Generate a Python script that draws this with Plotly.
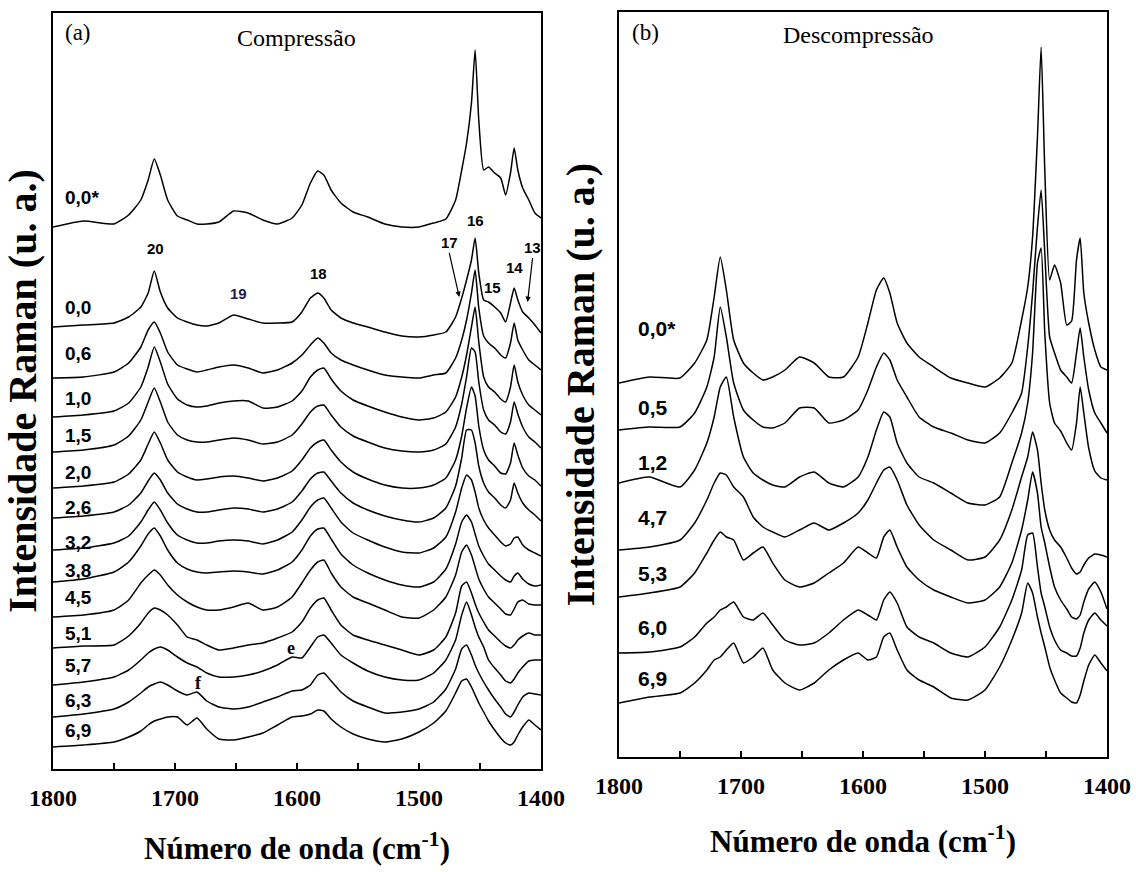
import plotly.graph_objects as go

# ---------------- data ----------------
wavenumber = [1800, 1775, 1750, 1738, 1728, 1722, 1717, 1712, 1706, 1698,
              1690, 1682, 1674, 1664, 1652, 1640, 1628, 1616, 1604, 1596,
              1589, 1583, 1578, 1572, 1564, 1554, 1542, 1528, 1514, 1500,
              1488, 1478, 1470, 1465, 1461, 1457, 1454, 1451, 1447, 1443,
              1438, 1433, 1429, 1425, 1422, 1419, 1415, 1410, 1405, 1400]

# (a) Compressão - pressure labels (GPa), stacking offsets
comp_labels = ['0,0*', '0,0', '0,6', '1,0', '1,5', '2,0', '2,6', '3,2', '3,8', '4,5', '5,1', '5,7', '6,3', '6,9']
comp_offsets = [542, 442, 391, 352, 317, 281, 251, 219, 187, 152, 121, 84, 52, 22]
comp_label_lift = [30, 20, 25, 19, 17, 16, 11, 8, 12, 20, 15, 20, 17, 17]

a_0_0s = [0, 6, 3, 12, 27, 47, 68, 52, 27, 11, 7, 3, 3, 5, 16, 14, 7, 3, 9, 22,
          44, 56, 52, 37, 24, 15, 10, 3, 0, 0, 4, 8, 27, 57, 84, 124, 177, 107, 57, 60,
          54, 49, 32, 54, 79, 57, 39, 27, 14, 9]
a_0_0 = [0, 2, 4, 10, 20, 34, 56, 35, 19, 9, 5, 2, 1, 4, 12, 8, 4, 4, 5, 15,
         29, 34, 29, 17, 9, 4, 0, -5, -9, -10, -8, -5, 10, 29, 47, 67, 89, 54, 27, 25,
         20, 14, 5, 24, 39, 27, 15, 9, 2, -6]
a_0_6 = [0, 1, 6, 15, 31, 48, 56, 45, 26, 13, 9, 6, 8, 11, 13, 10, 5, 8, 15, 23,
         33, 40, 35, 25, 18, 13, 8, 3, 1, 0, 3, 5, 20, 38, 58, 85, 108, 70, 42, 35,
         30, 23, 20, 35, 55, 38, 28, 18, 13, 8]
a_1_0 = [0, 2, 6, 14, 30, 50, 70, 55, 33, 18, 12, 10, 11, 14, 16, 16, 9, 10, 16, 26,
         40, 47, 49, 38, 26, 17, 11, 5, 0, -3, -1, 5, 20, 40, 62, 90, 110, 75, 40, 30,
         25, 18, 15, 30, 52, 35, 22, 12, 7, 2]
a_1_5 = [0, 2, 7, 16, 32, 50, 64, 50, 30, 17, 12, 10, 10, 12, 14, 12, 8, 10, 17, 28,
         40, 46, 47, 37, 25, 16, 10, 4, 1, 0, 2, 8, 25, 48, 75, 104, 100, 70, 42, 32,
         27, 20, 18, 30, 50, 38, 25, 15, 10, 4]
a_2_0 = [0, 2, 6, 14, 28, 44, 56, 45, 28, 16, 11, 8, 9, 11, 12, 10, 7, 10, 17, 28,
         40, 46, 48, 38, 26, 16, 9, 3, 0, 0, 3, 10, 28, 52, 80, 101, 92, 62, 38, 28,
         22, 15, 14, 25, 45, 33, 20, 12, 8, 2]
a_2_6 = [0, 2, 6, 13, 25, 37, 45, 38, 25, 14, 9, 6, 6, 8, 10, 9, 6, 9, 16, 27,
         39, 45, 46, 37, 25, 15, 8, 2, -2, -4, 0, 10, 32, 60, 88, 88, 75, 52, 35, 26,
         20, 13, 10, 18, 35, 25, 15, 8, 3, -3]
a_3_2 = [0, 2, 7, 14, 28, 40, 48, 40, 27, 15, 10, 7, 7, 9, 10, 9, 6, 10, 18, 30,
         43, 50, 52, 42, 28, 17, 10, 3, -2, -3, 2, 13, 38, 62, 75, 70, 58, 42, 30, 22,
         15, 8, 4, 6, 12, 13, 5, 0, -3, -6]
a_3_8 = [0, 3, 10, 20, 36, 48, 54, 46, 32, 19, 13, 10, 9, 10, 11, 10, 8, 12, 20, 32,
         46, 53, 54, 43, 28, 17, 9, 2, -3, -5, 0, 13, 38, 60, 67, 60, 48, 36, 26, 18,
         12, 6, 2, 0, 6, 9, 3, -2, -4, -3]
a_4_5 = [0, 2, 7, 17, 34, 42, 47, 42, 32, 22, 15, 10, 7, 7, 10, 14, 7, 10, 20, 34,
         47, 55, 57, 44, 30, 20, 14, 7, 0, -1, 7, 20, 42, 65, 72, 62, 50, 38, 28, 20,
         14, 8, 3, 2, 8, 15, 17, 13, 12, 12]
a_5_1 = [0, 2, 3, 12, 25, 35, 40, 38, 33, 23, 11, 8, 3, -2, 0, 3, 5, 10, 16, 26,
         40, 48, 50, 38, 23, 13, 8, 3, -2, -7, -2, 11, 35, 62, 66, 55, 44, 35, 26, 18,
         12, 6, 2, 0, 3, 8, 12, 15, 13, 13]
a_5_7 = [0, 3, 8, 15, 25, 32, 36, 38, 35, 28, 22, 18, 12, 8, 8, 10, 14, 20, 28, 27,
         38, 48, 50, 42, 30, 22, 14, 8, 5, 5, 12, 25, 45, 70, 83, 70, 58, 48, 38, 25,
         17, 10, 4, 2, 6, 12, 18, 24, 25, 25]
a_6_3 = [0, 3, 8, 15, 24, 30, 33, 35, 32, 26, 22, 25, 16, 10, 8, 10, 15, 20, 26, 27,
         32, 42, 44, 36, 25, 16, 10, 4, 5, 8, 15, 28, 48, 68, 72, 62, 52, 44, 35, 27,
         18, 10, 3, 0, 5, 12, 20, 24, 23, 22]
a_6_9 = [0, 2, 5, 10, 16, 22, 26, 28, 30, 30, 22, 29, 18, 8, 7, 10, 14, 22, 30, 31,
         33, 37, 36, 28, 20, 13, 8, 5, 8, 15, 24, 36, 54, 66, 68, 60, 52, 44, 35, 26,
         17, 9, 4, 2, 5, 12, 20, 27, 22, 17]

# (b) Descompressão
decomp_labels = ['0,0*', '0,5', '1,2', '4,7', '5,3', '6,0', '6,9']
decomp_offsets = [374, 327, 274, 207, 160, 104, 54]
decomp_label_lift = [55, 23, 21, 33, 24, 26, 25]

b_0_0s = [0, 6, 5, 20, 43, 86, 126, 93, 43, 20, 10, 3, 6, 13, 26, 20, 6, 6, 26, 60,
          93, 105, 90, 60, 40, 26, 16, 5, 0, -4, 5, 20, 63, 96, 146, 246, 336, 213, 103, 118,
          100, 58, 62, 123, 145, 90, 60, 33, 16, 13]
b_0_5 = [0, 3, 3, 17, 43, 73, 123, 93, 47, 20, 10, 3, 2, 7, 22, 22, 7, 10, 20, 40,
         63, 77, 70, 50, 33, 13, 3, -3, -10, -13, -3, 17, 37, 83, 137, 203, 240, 177, 93, 77,
         60, 53, 47, 77, 102, 73, 40, 17, 7, -3]
b_1_2 = [0, 6, -4, 13, 40, 66, 96, 106, 66, 26, 10, 3, -2, -4, 6, 11, 0, -4, 6, 26,
         53, 71, 66, 40, 20, 6, 0, -10, -20, -22, -14, 20, 50, 80, 130, 220, 235, 150, 80, 60,
         52, 40, 33, 60, 96, 70, 35, 12, 5, 3]
b_4_7 = [0, 3, 10, 27, 50, 67, 77, 75, 63, 53, 33, 23, 18, 13, 20, 27, 20, 27, 37, 50,
         67, 80, 83, 70, 45, 25, 10, 0, -10, -7, 10, 40, 73, 93, 118, 100, 67, 40, 20, 10,
         3, -8, -18, -24, -22, -15, -8, -4, -5, -7]
b_5_3 = [0, 4, 10, 24, 44, 57, 65, 60, 57, 37, 44, 50, 34, 17, 10, 14, 24, 34, 50, 44,
         39, 60, 67, 50, 30, 17, 7, 0, -6, -3, 10, 34, 67, 97, 125, 104, 70, 54, 30, 10,
         -3, -12, -20, -22, -18, -5, 8, 15, 5, -12]
b_6_0 = [0, 1, 6, 16, 30, 36, 43, 46, 51, 36, 33, 40, 28, 13, 8, 10, 20, 33, 43, 38,
         33, 53, 61, 50, 26, 16, 10, 0, -4, 6, 26, 53, 83, 118, 120, 86, 60, 46, 26, 13,
         3, 0, -3, -3, 5, 20, 33, 40, 33, 27]
b_6_9 = [0, 6, 10, 20, 33, 43, 46, 53, 60, 40, 46, 55, 33, 20, 13, 20, 33, 43, 50, 43,
         46, 66, 70, 53, 33, 23, 16, 5, 3, 13, 36, 63, 90, 120, 110, 86, 70, 56, 36, 23,
         10, 5, 1, 0, 8, 22, 38, 48, 40, 32]

comp_spectra = [a_0_0s, a_0_0, a_0_6, a_1_0, a_1_5, a_2_0, a_2_6, a_3_2, a_3_8,
                a_4_5, a_5_1, a_5_7, a_6_3, a_6_9]
decomp_spectra = [b_0_0s, b_0_5, b_1_2, b_4_7, b_5_3, b_6_0, b_6_9]

# band assignments (panel a)
band_numbers = ['20', '19', '18', '16', '15', '14']
band_wn = [1716, 1648, 1582, 1454, 1440, 1422]
band_height = [521, 476, 496, 549, 482, 502]
arrow_bands = ['17', '13']
arrow_wn = [1467, 1411]
arrow_height = [472, 467]
arrow_dx = [-10, 5]
mode_letters = ['e', 'f']
mode_wn = [1605, 1681]
mode_height = [121, 86]

major_ticks = [1800, 1700, 1600, 1500, 1400]

# ---------------- figure ----------------
W, H = 1136, 872
fig = go.Figure()
line_style = dict(color='black', width=1.5, shape='spline', smoothing=0.5)
for off, spec in zip(comp_offsets, comp_spectra):
    fig.add_trace(go.Scatter(x=wavenumber, y=[v + off for v in spec], mode='lines',
                             line=line_style, xaxis='x', yaxis='y',
                             showlegend=False, hoverinfo='skip'))
for off, spec in zip(decomp_offsets, decomp_spectra):
    fig.add_trace(go.Scatter(x=wavenumber, y=[v + off for v in spec], mode='lines',
                             line=line_style, xaxis='x2', yaxis='y2',
                             showlegend=False, hoverinfo='skip'))

serif = 'Liberation Serif'
sans = 'Liberation Sans'
xtitle = 'Número de onda (cm<sup>-1</sup>)'
ytitle = 'Intensidade Raman (u. a.)'

def xaxis_cfg(dom, anchor, standoff):
    return dict(domain=dom, range=[1800, 1400], anchor=anchor,
                tickmode='array', tickvals=major_ticks,
                ticks='inside', ticklen=6, tickwidth=1.5, tickcolor='black',
                minor=dict(tickmode='linear', tick0=1400, dtick=50, ticks='inside',
                           ticklen=6, tickwidth=1.5, tickcolor='black', showgrid=False),
                showline=True, linewidth=1.6, linecolor='black', mirror=True,
                showgrid=False, zeroline=False, ticklabelstandoff=6, automargin=False,
                tickfont=dict(family=serif, size=24, color='black', weight='bold'),
                title=dict(text=xtitle, standoff=standoff,
                           font=dict(family=serif, size=31, color='black', weight='bold')))

def yaxis_cfg(dom, rng, anchor, standoff):
    return dict(domain=dom, range=rng, anchor=anchor, showticklabels=False,
                ticks='', showline=True, linewidth=1.6, linecolor='black', mirror=True,
                showgrid=False, zeroline=False, automargin=False,
                title=dict(text=ytitle, standoff=standoff,
                           font=dict(family=serif, size=40, color='black', weight='bold')))

ann = []
for lab, off, lift in zip(comp_labels, comp_offsets, comp_label_lift):
    ann.append(dict(x=1792, y=off + lift, xref='x', yref='y', text='<b>%s</b>' % lab,
                    showarrow=False, xanchor='left', yanchor='middle',
                    font=dict(family=sans, size=19, color='black')))
for lab, off, lift in zip(decomp_labels, decomp_offsets, decomp_label_lift):
    ann.append(dict(x=1786, y=off + lift, xref='x2', yref='y2', text='<b>%s</b>' % lab,
                    showarrow=False, xanchor='left', yanchor='middle',
                    font=dict(family=sans, size=21, color='black')))
for t, wn, h in zip(band_numbers, band_wn, band_height):
    ann.append(dict(x=wn, y=h, xref='x', yref='y', text='<b>%s</b>' % t, showarrow=False,
                    xanchor='center', yanchor='middle',
                    font=dict(family=sans, size=15, color='#1b1b4f' if t == '19' else 'black')))
for t, wn, h, dx in zip(arrow_bands, arrow_wn, arrow_height, arrow_dx):
    ann.append(dict(x=wn, y=h, xref='x', yref='y', text='<b>%s</b>' % t, showarrow=True,
                    ax=dx, ay=-44, arrowhead=2, arrowsize=0.9, arrowwidth=1.2,
                    arrowcolor='black', standoff=0, xanchor='center', yanchor='bottom',
                    font=dict(family=sans, size=15, color='black')))
for t, wn, h in zip(mode_letters, mode_wn, mode_height):
    ann.append(dict(x=wn, y=h, xref='x', yref='y', text='<b>%s</b>' % t, showarrow=False,
                    xanchor='center', yanchor='middle',
                    font=dict(family=serif, size=18, color='black')))

def paper_text(x, y, text, size):
    return dict(x=x / W, y=1 - y / H, xref='paper', yref='paper',
                text=text, showarrow=False, xanchor='center', yanchor='middle',
                font=dict(family=serif, size=size, color='black'))

ann += [
    paper_text(78, 33, '(a)', 23),
    paper_text(296, 38, 'Compressão', 24),
    paper_text(645, 33, '(b)', 23),
    paper_text(858, 35, 'Descompressão', 24),
]

fig.update_layout(
    width=W, height=H, margin=dict(l=0, r=0, t=0, b=0),
    paper_bgcolor='white', plot_bgcolor='white', showlegend=False,
    xaxis=xaxis_cfg([53 / W, 541 / W], 'y', 28),
    yaxis=yaxis_cfg([(H - 769) / H, (H - 13) / H], [0, 756], 'x', 6),
    xaxis2=xaxis_cfg([619 / W, 1107 / W], 'y2', 33),
    yaxis2=yaxis_cfg([(H - 757) / H, (H - 12) / H], [0, 745], 'x2', 10),
    annotations=ann,
)

fig.write_html('out.html')
